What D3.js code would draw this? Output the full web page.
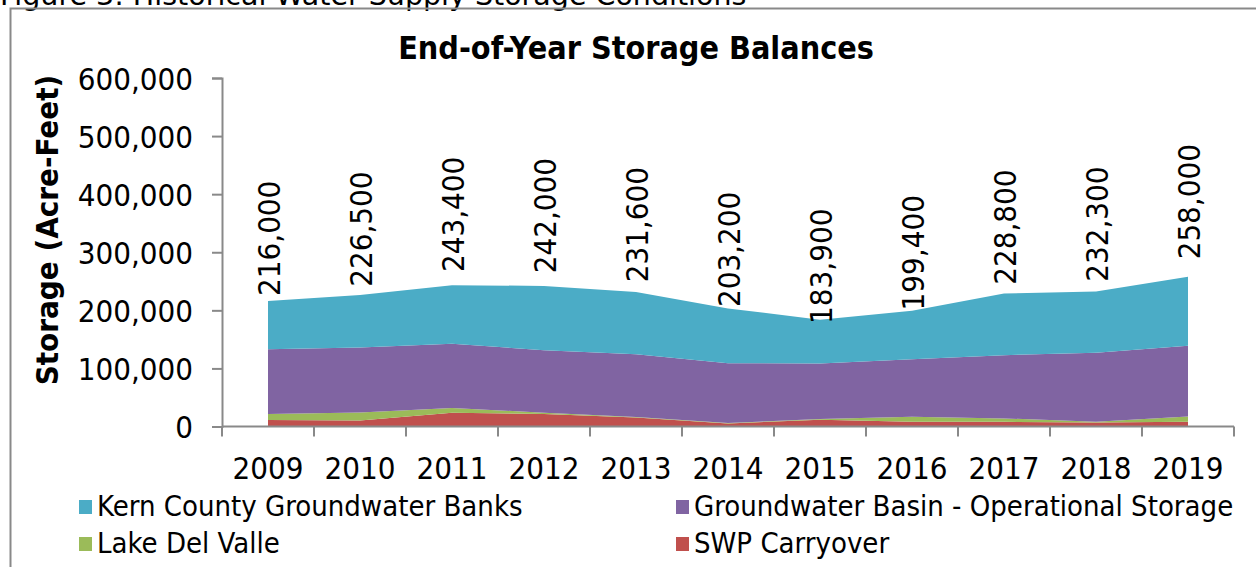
<!DOCTYPE html>
<html>
<head>
<meta charset="utf-8">
<script src="https://cdn.jsdelivr.net/npm/d3@7"></script>
<style>
  body { margin: 0; background: #fff; }
  svg text { font-family: "DejaVu Sans Condensed", "DejaVu Sans", sans-serif; fill: #000; }
</style>
</head>
<body>
<svg class="chart" width="1256" height="567"></svg>
<script>
  const years = ["2009", "2010", "2011", "2012", "2013", "2014", "2015", "2016", "2017", "2018", "2019"];
  const swpCarryover = [11100, 10400, 23700, 21500, 15600, 5200, 11600, 8100, 8100, 6900, 8100];
  const lakeDelValle = [10400, 13900, 8200, 2200, 600, 800, 1100, 8700, 5800, 1200, 9200];
  const groundwaterBasin = [111500, 111700, 110500, 107700, 108200, 103000, 95700, 99100, 108900, 118700, 121600];
  const kernCounty = [83000, 90500, 101000, 110600, 107200, 94200, 75500, 83500, 106000, 105500, 119100];
  const totals = [216000, 226500, 243400, 242000, 231600, 203200, 183900, 199400, 228800, 232300, 258000];
  const yTicks = [0, 100000, 200000, 300000, 400000, 500000, 600000];

  const seriesNames = {
    swp: "SWP Carryover",
    ldv: "Lake Del Valle",
    gw: "Groundwater Basin - Operational Storage",
    kern: "Kern County Groundwater Banks"
  };
  const color = { kern: "#4bacc6", gw: "#8064a2", ldv: "#9bbb59", swp: "#c0504d" };

  const rows = years.map((y, i) => ({
    year: y,
    swp: swpCarryover[i],
    ldv: lakeDelValle[i],
    gw: groundwaterBasin[i],
    kern: kernCounty[i],
    total: totals[i]
  }));

  const svg = d3.select(".chart");
  const axisColor = "#898989";

  // outer frame (cropped figure)
  svg.append("text")
    .attr("x", 0)
    .attr("y", 5)
    .style("font-family", "DejaVu Sans, sans-serif")
    .style("font-size", "28.5px")
    .text("Figure 3: Historical Water Supply Storage Conditions");
  svg.append("path")
    .attr("d", "M10.5,567V8.5H1256")
    .attr("fill", "none")
    .attr("stroke", axisColor)
    .attr("stroke-width", 2);

  const x = d3.scaleBand().domain(years).range([222, 1234]).padding(0);
  const y = d3.scaleLinear().domain([0, 600000]).range([426.5, 78]);
  const cx = (d) => x(d) + x.bandwidth() / 2;

  const stack = d3.stack().keys(["swp", "ldv", "gw", "kern"]);
  const layers = stack(rows);

  const area = d3.area()
    .x((d) => cx(d.data.year))
    .y0((d) => y(d[0]))
    .y1((d) => y(d[1]));

  svg.append("g")
    .selectAll("path")
    .data(layers)
    .enter()
    .append("path")
    .attr("d", area)
    .attr("fill", (d) => color[d.key]);

  // y axis
  const yAxis = svg.append("g").attr("transform", "translate(222,0)")
    .call(d3.axisLeft(y).tickValues(yTicks).tickSize(10).tickPadding(19).tickFormat(d3.format(",")));
  yAxis.select(".domain").attr("stroke", axisColor).attr("stroke-width", 2);
  yAxis.selectAll(".tick line").attr("stroke", axisColor).attr("stroke-width", 2);
  yAxis.selectAll(".tick text").style("font-size", "31px").attr("dy", "0.36em");

  // x axis (ticks between categories)
  const xAxis = svg.append("g").attr("transform", "translate(0,426.5)");
  xAxis.append("line")
    .attr("x1", 222).attr("x2", 1234)
    .attr("stroke", axisColor).attr("stroke-width", 2);
  xAxis.selectAll("line.tk")
    .data(years.concat(["end"]))
    .enter()
    .append("line")
    .attr("class", "tk")
    .attr("x1", (d, i) => 222 + i * x.bandwidth())
    .attr("x2", (d, i) => 222 + i * x.bandwidth())
    .attr("y1", 0).attr("y2", 10)
    .attr("stroke", axisColor).attr("stroke-width", 2);
  xAxis.selectAll("text")
    .data(years)
    .enter()
    .append("text")
    .attr("x", (d) => cx(d))
    .attr("y", 52)
    .attr("text-anchor", "middle")
    .style("font-size", "31px")
    .text((d) => d);

  // total labels, centred on a hidden stacked series equal to the total
  svg.append("g")
    .selectAll("text")
    .data(rows)
    .enter()
    .append("text")
    .attr("transform", (d) => `translate(${cx(d.year) + 1},${y(d.total * 1.5)}) rotate(-90)`)
    .attr("text-anchor", "middle")
    .attr("dy", "0.36em")
    .style("font-size", "31px")
    .text((d) => d3.format(",")(d.total));

  // titles
  svg.append("text")
    .attr("x", 636)
    .attr("y", 59)
    .attr("text-anchor", "middle")
    .style("font-size", "32px")
    .style("font-weight", "bold")
    .text("End-of-Year Storage Balances");

  svg.append("text")
    .attr("transform", "translate(58,230) rotate(-90)")
    .attr("text-anchor", "middle")
    .style("font-size", "31px")
    .style("font-weight", "bold")
    .text("Storage (Acre-Feet)");

  // legend
  const legendItems = [
    { key: "kern", x: 79, y: 500 },
    { key: "gw", x: 676, y: 500 },
    { key: "ldv", x: 79, y: 537 },
    { key: "swp", x: 676, y: 537 }
  ];
  const legend = svg.append("g")
    .selectAll("g")
    .data(legendItems)
    .enter()
    .append("g")
    .attr("transform", (d) => `translate(${d.x},${d.y})`);
  legend.append("rect")
    .attr("width", 13).attr("height", 14)
    .attr("fill", (d) => color[d.key]);
  legend.append("text")
    .attr("x", 18)
    .attr("y", 16)
    .style("font-size", "29px")
    .text((d) => seriesNames[d.key]);
</script>
</body>
</html>
